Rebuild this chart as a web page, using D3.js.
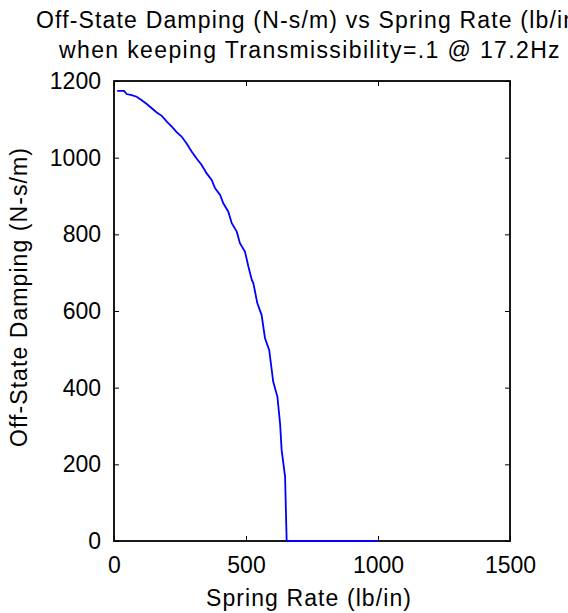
<html>
<script src="https://d3js.org/d3.v7.min.js"></script>
<style>
body {margin:0; background:#fff;}
text {font-family: "Liberation Sans", Arial, sans-serif; fill:#000;}
</style>
<body>
<svg width="568" height="613"></svg>
<script>
// spring rate (lb/in) and off-state damping (N-s/m)
var springRate = [12, 38, 48, 67, 86, 105, 124, 143, 162, 181, 200, 219, 238, 256, 275, 294, 313, 332, 351, 370,
  383, 402, 414, 433, 446, 465, 477, 496, 509, 522, 528, 543, 559, 572, 588, 603, 619, 629, 635, 648, 654, 1000];
var damping = [1174, 1174, 1166, 1163, 1159, 1150, 1140, 1129, 1118, 1109, 1094, 1081, 1066, 1055, 1037, 1016, 998, 981, 959, 942,
  920, 903, 881, 859, 829, 807, 777, 755, 716, 681, 672, 620, 590, 529, 498, 416, 376, 307, 237, 168, 0, 0];
var xTicks = [0, 500, 1000, 1500];
var yTicks = [0, 200, 400, 600, 800, 1000, 1200];
var titleLines = ["Off-State Damping (N-s/m) vs Spring Rate (lb/in)", "when keeping Transmissibility=.1 @ 17.2Hz"];

var margin = {top: 81, left: 114, right: 58, bottom: 72},
    width = 568 - margin.left - margin.right,
    height = 613 - margin.top - margin.bottom;

var svg = d3.select("svg");
var g = svg.append("g").attr("transform", "translate(" + margin.left + "," + margin.top + ")");

var x = d3.scaleLinear().domain([0, 1500]).range([0, width]);
var y = d3.scaleLinear().domain([0, 1200]).range([height, 0]);

// ticks on all four sides, pointing in
function styleAxis(sel) {
  sel.select(".domain").remove();
  sel.selectAll("line").attr("stroke", "#000").attr("stroke-width", 1);
  sel.selectAll("text").style("font-size", "23px").attr("fill", "#000");
}
g.append("g").attr("transform", "translate(0," + height + ")")
  .call(d3.axisBottom(x).tickValues(xTicks).tickFormat(d3.format("d")).tickSizeInner(-5).tickSizeOuter(0).tickPadding(16))
  .call(styleAxis);
g.append("g")
  .call(d3.axisTop(x).tickValues(xTicks).tickSizeInner(-5).tickSizeOuter(0).tickFormat(""))
  .call(styleAxis);
g.append("g")
  .call(d3.axisLeft(y).tickValues(yTicks).tickFormat(d3.format("d")).tickSizeInner(-5).tickSizeOuter(0).tickPadding(13))
  .call(styleAxis);
g.append("g").attr("transform", "translate(" + width + ",0)")
  .call(d3.axisRight(y).tickValues(yTicks).tickSizeInner(-5).tickSizeOuter(0).tickFormat(""))
  .call(styleAxis);

g.append("rect").attr("width", width).attr("height", height)
  .attr("fill", "none").attr("stroke", "#000").attr("stroke-width", 1.8);

var line = d3.line().x(function(d, i) { return x(springRate[i]); }).y(function(d) { return y(d); });
g.append("path").datum(damping).attr("d", line)
  .attr("fill", "none").attr("stroke", "#0000ff").attr("stroke-width", 1.8);

// matlab text runs a bit wider than Liberation: widen letter spacing to a target width
function stretch(t, target) {
  var n = t.text().length;
  var w = t.node().getComputedTextLength();
  t.style("letter-spacing", ((target - w) / n) + "px");
  return t;
}

// first title line is wider than the window and gets clipped on the right, like the original
svg.append("text").attr("x", 36).attr("y", 28)
  .style("font-size", "23px").text(titleLines[0])
  .call(stretch, 550);
var t2 = svg.append("text").attr("y", 58)
  .style("font-size", "23px").text(titleLines[1])
  .call(stretch, 502);
t2.attr("x", 310 - 251);

svg.append("text").attr("x", 206).attr("y", 606)
  .style("font-size", "23px").text("Spring Rate (lb/in)")
  .call(stretch, 206);

svg.append("text").attr("transform", "translate(27,447)rotate(-90)")
  .style("font-size", "23px").text("Off-State Damping (N-s/m)")
  .call(stretch, 300);
</script>
</body>
</html>
